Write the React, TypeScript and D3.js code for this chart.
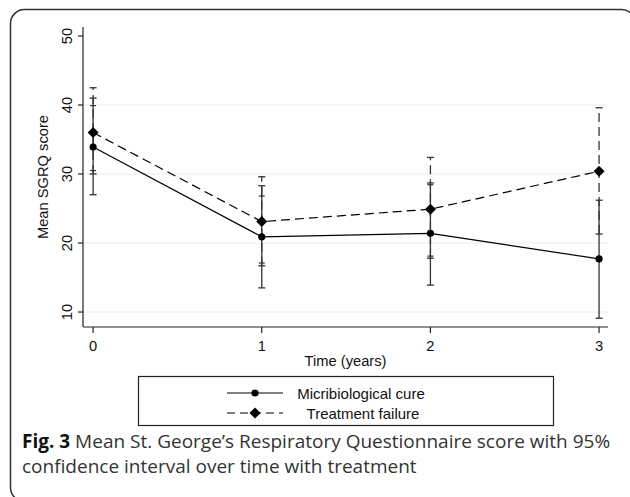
import * as d3 from "d3";

// time points (years)
const times = [0, 1, 2, 3];

// Micribiological cure: mean and 95% CI
const cureMean = [33.9, 20.9, 21.4, 17.7];
const cureLo = [27.0, 13.5, 13.9, 9.1];
const cureHi = [41.0, 28.3, 28.7, 26.2];

// Treatment failure: mean and 95% CI
const failMean = [36.0, 23.1, 24.9, 30.4];
const failLo = [30.0, 16.7, 17.8, 21.3];
const failHi = [42.5, 29.6, 32.4, 39.6];

// short extra cap marks seen on the bars
const extraLo = [30.5, 17.1, 18.1];
const extraHi = [39.9, 26.8, 28.45];

const yTicks = [10, 20, 30, 40, 50];
const xTicks = [0, 1, 2, 3];

const W = 630;
const H = 497;
const left = 83;
const right = 608;
const top = 27;
const bottom = 327;

const axisFont = "'Liberation Sans', Arial, sans-serif";
const barColor = "#333";
const dash = "9,5";
const fs = 14.7;

function diamond(cx: number, cy: number, r: number) {
  return `M${cx},${cy - r}L${cx + r},${cy}L${cx},${cy + r}L${cx - r},${cy}Z`;
}

export default function App() {
  const x = d3.scaleLinear().domain([-0.06, 3.053]).range([left, right]);
  const y = d3.scaleLinear().domain([7.83, 51.3]).range([bottom, top]);

  const meanLine = d3
    .line<number>()
    .x((_, i) => x(times[i]))
    .y((d) => y(d));

  const capW = 3.5;
  const legY1 = 393;
  const legY2 = 413;

  return (
    <svg
      width={W}
      height={H}
      style={{ position: "absolute", left: 0, top: 0, background: "#fff" }}
    >
      {/* outer frame */}
      <rect
        x={10.5}
        y={9.5}
        width={625}
        height={492}
        rx={14}
        fill="#fff"
        stroke="#333"
        strokeWidth={1.5}
      />

      {/* gridlines */}
      {yTicks
        .filter((t) => t < 50)
        .map((t) => (
          <line
            key={"g" + t}
            x1={left}
            x2={right}
            y1={y(t)}
            y2={y(t)}
            stroke="#ebebeb"
            strokeWidth={1}
          />
        ))}

      {/* axes */}
      <line x1={left} x2={left} y1={top} y2={bottom} stroke="#222" strokeWidth={1.2} />
      <line x1={left} x2={right} y1={bottom} y2={bottom} stroke="#222" strokeWidth={1.2} />
      {yTicks.map((t) => (
        <g key={"yt" + t}>
          <line x1={left - 5} x2={left} y1={y(t)} y2={y(t)} stroke="#222" strokeWidth={1.2} />
          <text
            transform={`translate(71.5,${y(t)}) rotate(-90)`}
            textAnchor="middle"
            fontFamily={axisFont}
            fontSize={fs}
            fill="#111"
          >
            {t}
          </text>
        </g>
      ))}
      {xTicks.map((t) => (
        <g key={"xt" + t}>
          <line x1={x(t)} x2={x(t)} y1={bottom} y2={bottom + 6} stroke="#222" strokeWidth={1.2} />
          <text
            x={x(t)}
            y={351}
            textAnchor="middle"
            fontFamily={axisFont}
            fontSize={fs}
            fill="#111"
          >
            {t}
          </text>
        </g>
      ))}
      <text
        x={(left + right) / 2}
        y={365.5}
        textAnchor="middle"
        fontFamily={axisFont}
        fontSize={fs}
        fill="#111"
      >
        Time (years)
      </text>
      <text
        transform={`translate(48,${(top + bottom) / 2}) rotate(-90)`}
        textAnchor="middle"
        fontFamily={axisFont}
        fontSize={fs}
        fill="#111"
      >
        Mean SGRQ score
      </text>

      {/* treatment failure CI (dashed) */}
      {times.map((t, i) => (
        <g key={"fci" + i} stroke={barColor} strokeWidth={1.3}>
          <line x1={x(t)} x2={x(t)} y1={y(failLo[i])} y2={y(failHi[i])} strokeDasharray={dash} />
          <line x1={x(t) - capW} x2={x(t) + capW} y1={y(failLo[i])} y2={y(failLo[i])} />
          <line x1={x(t) - capW} x2={x(t) + capW} y1={y(failHi[i])} y2={y(failHi[i])} />
        </g>
      ))}
      {/* cure CI (solid) */}
      {times.map((t, i) => (
        <g key={"cci" + i} stroke={barColor} strokeWidth={1.3}>
          <line x1={x(t)} x2={x(t)} y1={y(cureLo[i])} y2={y(cureHi[i])} />
          <line x1={x(t) - capW} x2={x(t) + capW} y1={y(cureLo[i])} y2={y(cureLo[i])} />
          <line x1={x(t) - capW} x2={x(t) + capW} y1={y(cureHi[i])} y2={y(cureHi[i])} />
        </g>
      ))}
      {extraLo.map((v, i) => (
        <g key={"ex" + i} stroke={barColor} strokeWidth={1.2}>
          <line x1={x(times[i]) - 3} x2={x(times[i]) + 3} y1={y(v)} y2={y(v)} />
          <line x1={x(times[i]) - 3} x2={x(times[i]) + 3} y1={y(extraHi[i])} y2={y(extraHi[i])} />
        </g>
      ))}

      {/* lines */}
      <path d={meanLine(cureMean) ?? ""} fill="none" stroke="#000" strokeWidth={1.2} />
      <path
        d={meanLine(failMean) ?? ""}
        fill="none"
        stroke="#000"
        strokeWidth={1.2}
        strokeDasharray={dash}
      />
      {cureMean.map((v, i) => (
        <circle key={"c" + i} cx={x(times[i])} cy={y(v)} r={3.6} fill="#000" />
      ))}
      {failMean.map((v, i) => (
        <path key={"d" + i} d={diamond(x(times[i]), y(v), 5.5)} fill="#000" />
      ))}

      {/* legend */}
      <rect x={138.5} y={376.5} width={415} height={49} fill="#fff" stroke="#222" strokeWidth={1.2} />
      <line x1={227} x2={283} y1={legY1} y2={legY1} stroke="#000" strokeWidth={1.2} />
      <circle cx={255} cy={legY1} r={3.6} fill="#000" />
      <line
        x1={227}
        x2={283}
        y1={legY2}
        y2={legY2}
        stroke="#000"
        strokeWidth={1.2}
        strokeDasharray="8,5"
      />
      <path d={diamond(255, legY2, 5.5)} fill="#000" />
      <text x={361} y={legY1 + 5.5} textAnchor="middle" fontFamily={axisFont} fontSize={15} fill="#111">
        Micribiological cure
      </text>
      <text x={363} y={legY2 + 5.5} textAnchor="middle" fontFamily={axisFont} fontSize={15} fill="#111">
        Treatment failure
      </text>

      {/* caption */}
      <text x={22} y={448} fontFamily="'Open Sans', sans-serif" fontSize={19} fill="#333">
        <tspan fontWeight="bold" fill="#111">Fig. 3</tspan>
        <tspan> Mean St. George’s Respiratory Questionnaire score with 95%</tspan>
      </text>
      <text x={22} y={473} fontFamily="'Open Sans', sans-serif" fontSize={19} fill="#333">
        confidence interval over time with treatment
      </text>
    </svg>
  );
}
